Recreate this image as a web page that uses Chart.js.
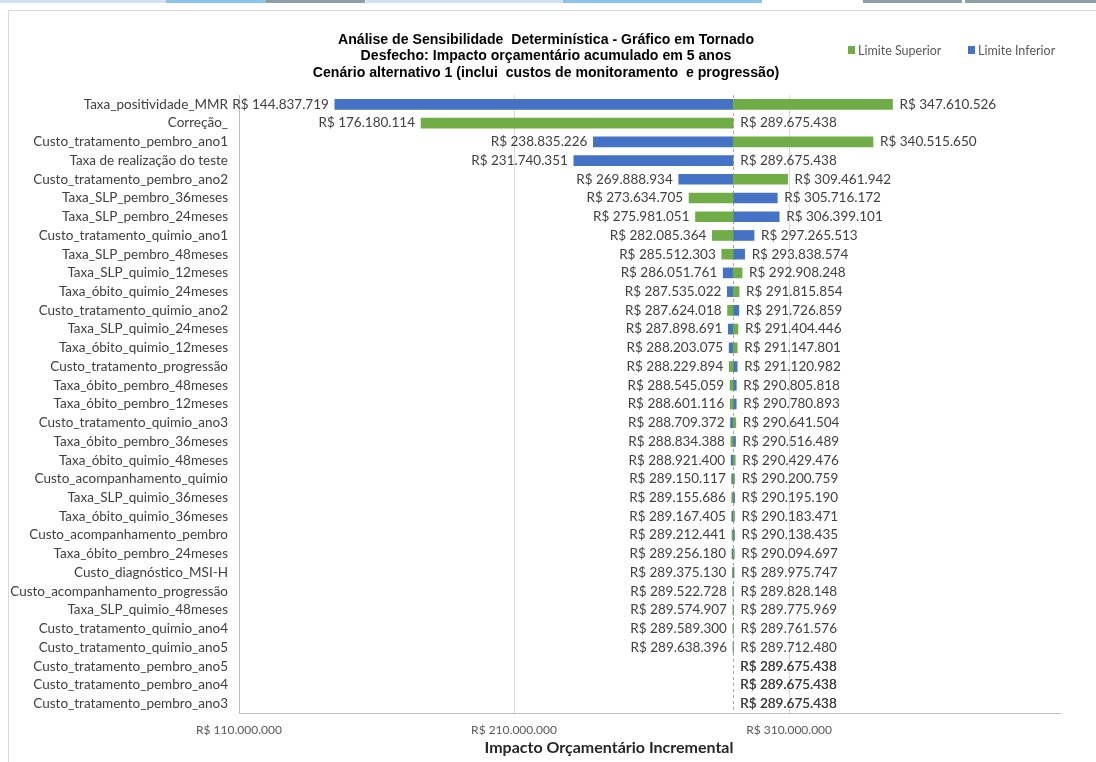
<!DOCTYPE html>
<html>
<head>
<meta charset="utf-8">
<script src="https://cdn.jsdelivr.net/npm/chart.js@4.4.1/dist/chart.umd.min.js"></script>
<style>
    html, body { margin: 0; padding: 0; background: #fff; }
    body { width: 1096px; height: 762px; position: relative; overflow: hidden; }
    #frame { position: absolute; left: 8px; top: 10px; width: 1100px; height: 760px; border: 1px solid #d9d9d9; }
    .strip { position: absolute; top: 0; height: 3px; }
    #wrap { position: absolute; left: 0; top: 0; width: 1096px; height: 762px; }
</style>
</head>
<body>
<!-- bits of the window above the chart -->
<div class="strip" style="left:0;width:166px;background:#cfe3f5"></div>
<div class="strip" style="left:166px;width:100px;background:#8cc3ec"></div>
<div class="strip" style="left:266px;width:99px;background:#8d9ea9"></div>
<div class="strip" style="left:366px;width:197px;background:#cfe3f5"></div>
<div class="strip" style="left:563px;width:199px;background:#8cc3ec"></div>
<div class="strip" style="left:863px;width:99px;background:#8d9ea9"></div>
<div class="strip" style="left:965px;width:131px;background:#8d9ea9"></div>
<div id="frame"></div>
<div id="wrap"><canvas id="chart" width="1096" height="762"></canvas></div>
<script>
    const titleLines = [
        'Análise de Sensibilidade  Determinística - Gráfico em Tornado',
        'Desfecho: Impacto orçamentário acumulado em 5 anos',
        'Cenário alternativo 1 (inclui  custos de monitoramento  e progressão)',
    ]
    const axisTitle = 'Impacto Orçamentário Incremental'

    const baseValue = 289675438

    const categories = [
        'Taxa_positividade_MMR',
        'Correção_',
        'Custo_tratamento_pembro_ano1',
        'Taxa de realização do teste',
        'Custo_tratamento_pembro_ano2',
        'Taxa_SLP_pembro_36meses',
        'Taxa_SLP_pembro_24meses',
        'Custo_tratamento_quimio_ano1',
        'Taxa_SLP_pembro_48meses',
        'Taxa_SLP_quimio_12meses',
        'Taxa_óbito_quimio_24meses',
        'Custo_tratamento_quimio_ano2',
        'Taxa_SLP_quimio_24meses',
        'Taxa_óbito_quimio_12meses',
        'Custo_tratamento_progressão',
        'Taxa_óbito_pembro_48meses',
        'Taxa_óbito_pembro_12meses',
        'Custo_tratamento_quimio_ano3',
        'Taxa_óbito_pembro_36meses',
        'Taxa_óbito_quimio_48meses',
        'Custo_acompanhamento_quimio',
        'Taxa_SLP_quimio_36meses',
        'Taxa_óbito_quimio_36meses',
        'Custo_acompanhamento_pembro',
        'Taxa_óbito_pembro_24meses',
        'Custo_diagnóstico_MSI-H',
        'Custo_acompanhamento_progressão',
        'Taxa_SLP_quimio_48meses',
        'Custo_tratamento_quimio_ano4',
        'Custo_tratamento_quimio_ano5',
        'Custo_tratamento_pembro_ano5',
        'Custo_tratamento_pembro_ano4',
        'Custo_tratamento_pembro_ano3',
    ]

    // green bars
    const limiteSuperior = [
        347610526, 176180114, 340515650, 289675438, 309461942,
        273634705, 275981051, 282085364, 285512303, 292908248,
        291815854, 287624018, 291404446, 291147801, 288229894,
        288545059, 288601116, 290641504, 288834388, 290429476,
        290200759, 289155686, 290183471, 289212441, 290094697,
        289375130, 289828148, 289574907, 289761576, 289638396,
        289675438, 289675438, 289675438,
    ]

    // blue bars
    const limiteInferior = [
        144837719, 289675438, 238835226, 231740351, 269888934,
        305716172, 306399101, 297265513, 293838574, 286051761,
        287535022, 291726859, 287898691, 288203075, 291120982,
        290805818, 290780893, 288709372, 290516489, 288921400,
        289150117, 290195190, 289167405, 290138435, 289256180,
        289975747, 289522728, 289775969, 289589300, 289712480,
        289675438, 289675438, 289675438,
    ]

    const xTicks = [110000000, 210000000, 310000000]

    const green = '#70ad47'
    const blue = '#4472c4'
    const labelFont = '13.5px Lato'

    function brl(v) {
        return 'R$ ' + String(Math.round(v)).replace(/\B(?=(\d{3})+(?!\d))/g, '.')
    }

    // floating bar from the base value, nothing when there is no change
    const toBar = v => (v === baseValue ? null : [baseValue, v])

    // title, legend, axis title, base line and value labels
    const tornadoPlugin = {
        id: 'tornado',
        beforeDatasetsDraw(chart) {
            const { ctx, chartArea, scales } = chart
            const x = Math.round(scales.x.getPixelForValue(baseValue)) + 0.5
            ctx.save()
            ctx.strokeStyle = '#a6a6a6'
            ctx.lineWidth = 1
            ctx.setLineDash([3, 3])
            ctx.beginPath()
            ctx.moveTo(x, chartArea.top)
            ctx.lineTo(x, chartArea.bottom)
            ctx.stroke()
            ctx.restore()
        },
        afterDatasetsDraw(chart) {
            const { ctx, scales } = chart
            ctx.save()
            ctx.font = labelFont
            ctx.fillStyle = '#404040'
            ctx.textBaseline = 'middle'
            ;[limiteSuperior, limiteInferior].forEach(values => {
                values.forEach((v, i) => {
                    const px = scales.x.getPixelForValue(v)
                    const py = scales.y.getPixelForValue(i)
                    if (v < baseValue) {
                        ctx.textAlign = 'right'
                        ctx.fillText(brl(v), px - 6, py)
                    } else {
                        ctx.textAlign = 'left'
                        ctx.fillText(brl(v), px + 7, py)
                    }
                })
            })
            ctx.restore()
        },
        afterDraw(chart) {
            const { ctx, chartArea } = chart
            ctx.save()
            ctx.fillStyle = '#000'
            ctx.textAlign = 'center'
            ctx.textBaseline = 'middle'
            // Excel used a narrow bold face here, squeeze the sans to the same width
            ctx.font = 'bold 14px "Liberation Sans"'
            const squeeze = 416 / ctx.measureText(titleLines[0]).width
            titleLines.forEach((t, i) => {
                ctx.save()
                ctx.translate(546, 40 + i * 16.5)
                ctx.scale(squeeze, 1)
                ctx.fillText(t, 0, 0)
                ctx.restore()
            })

            // legend
            ctx.font = '12.5px Lato'
            ctx.textAlign = 'left'
            const items = [['Limite Superior', green, 848], ['Limite Inferior', blue, 968]]
            items.forEach(([txt, col, lx]) => {
                ctx.fillStyle = col
                ctx.fillRect(lx, 46, 7, 8)
                ctx.fillStyle = '#595959'
                ctx.fillText(txt, lx + 10, 50.5)
            })

            ctx.font = 'bold 16px Lato'
            ctx.fillStyle = '#262626'
            ctx.textAlign = 'center'
            ctx.fillText(axisTitle, 609, chartArea.bottom + 35)
            ctx.restore()
        },
    }

    const chart = new Chart(document.getElementById('chart'), {
        type: 'bar',
        data: {
            labels: categories,
            datasets: [
                {
                    label: 'Limite Superior',
                    data: limiteSuperior.map(toBar),
                    backgroundColor: green,
                },
                {
                    label: 'Limite Inferior',
                    data: limiteInferior.map(toBar),
                    backgroundColor: blue,
                },
            ],
        },
        options: {
            indexAxis: 'y',
            responsive: false,
            animation: false,
            layout: { padding: { top: 95, right: 36, left: 0, bottom: 0 } },
            datasets: {
                bar: { grouped: false, barThickness: 10, borderWidth: 0 },
            },
            plugins: {
                legend: { display: false },
                title: { display: false },
                tooltip: { enabled: false },
            },
            scales: {
                x: {
                    min: 110000000,
                    max: 408500000,
                    afterBuildTicks: scale => { scale.ticks = xTicks.map(v => ({ value: v })) },
                    afterFit: scale => { scale.height = 49 },
                    grid: { color: '#d9d9d9', drawTicks: false },
                    border: { color: '#bfbfbf' },
                    ticks: {
                        callback: v => brl(v),
                        font: { family: 'Lato', size: 12 },
                        color: '#595959',
                        padding: 10,
                        maxRotation: 0,
                        autoSkip: false,
                    },
                },
                y: {
                    afterFit: scale => { scale.width = 239 },
                    grid: { display: false, drawTicks: false },
                    border: { color: '#bfbfbf' },
                    ticks: {
                        font: { family: 'Lato', size: 13.5 },
                        color: '#404040',
                        padding: 11,
                        autoSkip: false,
                    },
                },
            },
        },
        plugins: [tornadoPlugin],
    })
</script>
</body>
</html>
